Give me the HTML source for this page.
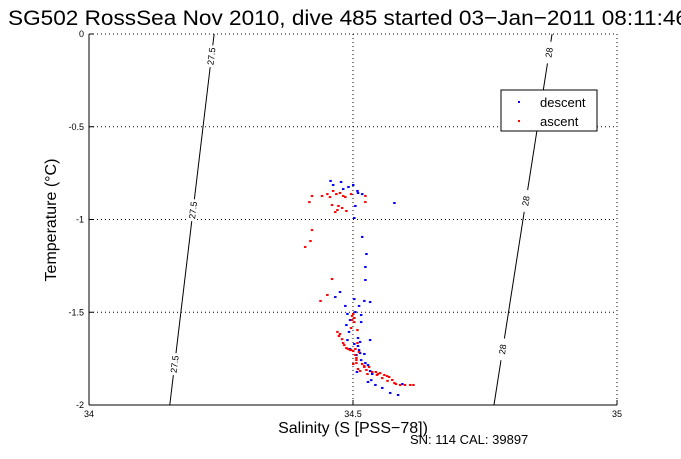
<!DOCTYPE html>
<html><head><meta charset="utf-8"><style>
body{margin:0;background:#fff;overflow:hidden;}
svg text{font-family:"Liberation Sans",Arial,sans-serif;}
</style></head><body>
<svg id="chart" width="681" height="454" xmlns="http://www.w3.org/2000/svg">
<rect width="681" height="454" fill="#fff"/>
<text x="8" y="25" font-size="21.5" textLength="680" lengthAdjust="spacingAndGlyphs">SG502 RossSea Nov 2010, dive 485 started 03−Jan−2011 08:11:46</text>
<g id="grid"></g>
<g id="contours"></g>
<g id="pts"></g>
<line x1="89" y1="405" x2="617" y2="405" stroke="#000"/>
<line x1="89" y1="34" x2="89" y2="405" stroke="#000"/>
<line x1="89" y1="34" x2="617" y2="34" stroke="#000" stroke-dasharray="1,3"/>
<line x1="617" y1="34" x2="617" y2="405" stroke="#000" stroke-dasharray="1,3"/>
<g id="ticks"></g>
<text x="353" y="433" font-size="16" text-anchor="middle">Salinity (S [PSS−78])</text>
<text transform="translate(56,220) rotate(-90)" font-size="16" text-anchor="middle">Temperature (°C)</text>
<text x="410" y="444" font-size="13">SN: 114  CAL: 39897</text>
<g>
<rect x="501" y="90" width="96" height="41" fill="#fff" stroke="#000"/>
<rect x="518" y="101" width="2" height="2" fill="#00f"/>
<text x="540" y="107" font-size="13">descent</text>
<rect x="518" y="120" width="2" height="2" fill="#f00"/>
<text x="540" y="126" font-size="13">ascent</text>
</g>
</svg>
<script>
const xTicks=[34,34.5,35];
const yTicks=[0,-0.5,-1,-1.5,-2];
const yTickLabels=["0","-0.5","-1","-1.5","-2"];
const descS=[34.457,34.477,34.462,34.481,34.491,34.5,34.508,34.509,34.517,34.578,34.504,34.502,34.517,34.525,34.523,34.523,34.475,34.466,34.502,34.485,34.532,34.521,34.504,34.511,34.489,34.494,34.515,34.515,34.487,34.492,34.489,34.509,34.502,34.509,34.513,34.511,34.506,34.515,34.523,34.528,34.532,34.536,34.534,34.528,34.542,34.555,34.570,34.585,34.593,34.513,34.507,34.532,34.494,34.521];
const descT=[-0.792,-0.798,-0.814,-0.836,-0.825,-0.814,-0.846,-0.857,-0.863,-0.911,-0.927,-0.992,-1.094,-1.186,-1.256,-1.326,-1.391,-1.418,-1.429,-1.466,-1.445,-1.439,-1.499,-1.466,-1.509,-1.542,-1.515,-1.553,-1.569,-1.606,-1.650,-1.639,-1.671,-1.682,-1.660,-1.704,-1.731,-1.758,-1.774,-1.785,-1.817,-1.833,-1.866,-1.876,-1.892,-1.908,-1.935,-1.946,-1.887,-1.720,-1.822,-1.650,-1.698,-1.725];
const ascS=[34.422,34.441,34.456,34.451,34.462,34.468,34.475,34.481,34.485,34.496,34.523,34.523,34.417,34.460,34.472,34.479,34.470,34.466,34.487,34.422,34.419,34.409,34.460,34.451,34.438,34.470,34.473,34.481,34.487,34.494,34.504,34.498,34.500,34.502,34.496,34.508,34.508,34.500,34.511,34.506,34.506,34.500,34.506,34.517,34.509,34.521,34.525,34.527,34.536,34.530,34.543,34.547,34.551,34.559,34.564,34.568,34.574,34.578,34.581,34.589,34.598,34.608,34.614,34.513,34.521,34.475,34.479,34.483,34.490,34.496,34.502,34.498,34.504,34.545,34.555,34.565];
const ascT=[-0.873,-0.873,-0.879,-0.863,-0.846,-0.863,-0.857,-0.873,-0.879,-0.863,-0.873,-0.906,-0.906,-0.922,-0.927,-0.938,-0.949,-0.960,-0.954,-1.057,-1.116,-1.148,-1.321,-1.407,-1.439,-1.606,-1.628,-1.666,-1.693,-1.704,-1.698,-1.542,-1.509,-1.553,-1.585,-1.596,-1.666,-1.709,-1.714,-1.758,-1.774,-1.779,-1.747,-1.779,-1.806,-1.795,-1.811,-1.833,-1.822,-1.795,-1.822,-1.833,-1.828,-1.838,-1.844,-1.849,-1.865,-1.881,-1.887,-1.892,-1.892,-1.892,-1.892,-1.817,-1.790,-1.617,-1.645,-1.677,-1.698,-1.704,-1.531,-1.520,-1.730,-1.838,-1.855,-1.870];
const cont1=[[34.237,0],[34.153,-2]];
const cont2=[[34.877,0],[34.767,-2]];
const X=s=>89+(s-34)*528;
const Y=t=>34-t*185.5;
const NS="http://www.w3.org/2000/svg";
function mk(tag,attrs,parent){const e=document.createElementNS(NS,tag);for(const k in attrs)e.setAttribute(k,attrs[k]);parent.appendChild(e);return e;}
const grid=document.getElementById('grid'),ticks=document.getElementById('ticks'),cont=document.getElementById('contours'),pts=document.getElementById('pts');
xTicks.forEach((v,i)=>{
  if(i>0&&i<xTicks.length-1){const g=mk('line',{x1:X(v),x2:X(v),y1:34,y2:405,stroke:'#000','stroke-dasharray':'1,3'},grid);
  
  }
  mk('line',{x1:X(v),x2:X(v),y1:405,y2:400,stroke:'#000'},ticks);
  const t=mk('text',{x:X(v),y:417,'font-size':9,'text-anchor':'middle'},ticks);t.textContent=v;
  
  
});
yTicks.forEach((v,i)=>{
  if(i>0&&i<yTicks.length-1){const g=mk('line',{x1:89,x2:617,y1:Y(v),y2:Y(v),stroke:'#000','stroke-dasharray':'1,3'},grid);
  
  }
  mk('line',{x1:89,x2:94,y1:Y(v),y2:Y(v),stroke:'#000'},ticks);
  const t=mk('text',{x:84,y:Y(v)+3,'font-size':9,'text-anchor':'end'},ticks);t.textContent=yTickLabels[i];
  
  
});
function contour(c,label,fracs,name){
  const x1=X(c[0][0]),y1=Y(c[0][1]),x2=X(c[1][0]),y2=Y(c[1][1]);
  const l=mk('line',{x1,y1,x2,y2,stroke:'#000'},cont);
  
  
  const ang=Math.atan2(y1-y2,x1-x2)*180/Math.PI;
  fracs.forEach(f=>{const x=x1+(x2-x1)*f,y=y1+(y2-y1)*f;
    const g=mk('g',{transform:`translate(${x},${y}) rotate(${ang})`},cont);
    mk('rect',{x:-11,y:-5,width:22,height:10,fill:'#fff'},g);
    const t=mk('text',{x:0,y:3,'font-size':9,'text-anchor':'middle'},g);t.textContent=label;
    
    
  });
}
contour(cont1,'27.5',[0.06,0.475,0.89],'isopycnal-27-5');
contour(cont2,'28',[0.05,0.45,0.85],'isopycnal-28');
function plot(S,T,col,name){S.forEach((s,i)=>{const r=mk('rect',{x:X(s)-1,y:Y(T[i])-1,width:2.5,height:2,fill:col},pts);
  
  });}
plot(descS,descT,'#00f','descent-point');
plot(ascS,ascT,'#f00','ascent-point');
</script>
</body></html>
